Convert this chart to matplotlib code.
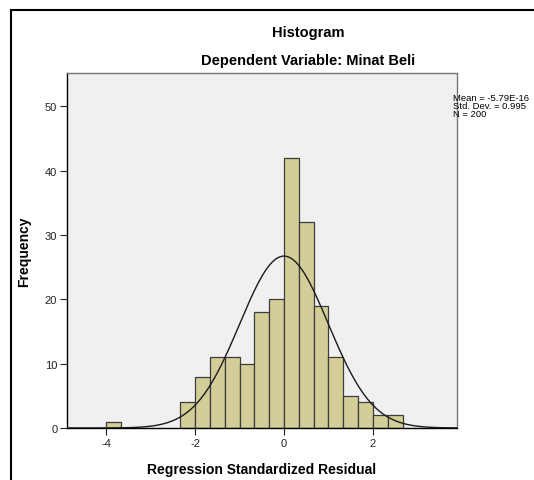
import matplotlib.pyplot as plt
import numpy as np
from matplotlib.patches import Rectangle

plt.rcParams["font.family"] = ["Liberation Sans", "DejaVu Sans"]
plt.rcParams["axes.unicode_minus"] = False

# bin edges (width 1/3) and counts
BIN_LEFT = [-4.0, -7/3, -2.0, -5/3, -4/3, -1.0, -2/3, -1/3, 0.0, 1/3, 2/3, 1.0, 4/3, 5/3, 2.0, 7/3]
COUNTS = [1, 4, 8, 11, 11, 10, 18, 20, 42, 32, 19, 11, 5, 4, 2, 2]
BIN_WIDTH = 1 / 3

MEAN = -5.79e-16
STD = 0.995
N = 200

X_TICKS = [-4, -2, 0, 2]
Y_TICKS = [0, 10, 20, 30, 40, 50]

W, H = 534, 481
fig = plt.figure(figsize=(W / 100, H / 100), dpi=100)
fig.patch.set_facecolor("white")

# outer frame like the SPSS output viewer
fig.patches.append(Rectangle((11 / W, -0.1), 1.2, 1 - 11 / H + 0.1,
                             transform=fig.transFigure, fill=False,
                             edgecolor="black", linewidth=1.5))

ax = fig.add_axes([67 / W, 1 - 429 / H, (457 - 67) / W, (429 - 74) / H])
ax.set_facecolor("#F0F0F0")

ax.bar(BIN_LEFT, COUNTS, width=BIN_WIDTH, align="edge", color="#D3CE97",
       edgecolor="#3c3c3c", linewidth=0.9, zorder=2)

xs = np.linspace(-4.88, 3.89, 400)
ys = N * BIN_WIDTH / (STD * np.sqrt(2 * np.pi)) * np.exp(-0.5 * ((xs - MEAN) / STD) ** 2)
ax.plot(xs, ys, color="#1a1a1a", linewidth=1.0, zorder=3)

ax.set_xlim(-4.88, 3.89)
ax.set_ylim(0, 55.2)
ax.set_xticks(X_TICKS)
ax.set_yticks(Y_TICKS)
ax.tick_params(labelsize=8, length=5, width=0.8, colors="#222222", pad=2)

for side in ["left", "bottom"]:
    ax.spines[side].set_color("black")
    ax.spines[side].set_linewidth(1.0)
for side in ["top", "right"]:
    ax.spines[side].set_color("#777777")
    ax.spines[side].set_linewidth(1.0)

ax.set_xlabel("Regression Standardized Residual", fontsize=10, fontweight="bold", labelpad=10)
ax.set_ylabel("Frequency", fontsize=10, fontweight="bold", labelpad=10)

fig.text(308 / W, 1 - 33 / H, "Histogram", ha="center", va="center",
         fontsize=10.5, fontweight="bold")
fig.text(308 / W, 1 - 61 / H, "Dependent Variable: Minat Beli",
         ha="center", va="center", fontsize=10.5, fontweight="bold")

# stats box, shrunk a little so it stays inside the picture
fig.text(453 / W, 1 - 94 / H,
         "Mean = -5.79E-16\nStd. Dev. = 0.995\nN = 200",
         ha="left", va="top", fontsize=6.8, linespacing=0.85)

fig.savefig("out.png", dpi=100)
